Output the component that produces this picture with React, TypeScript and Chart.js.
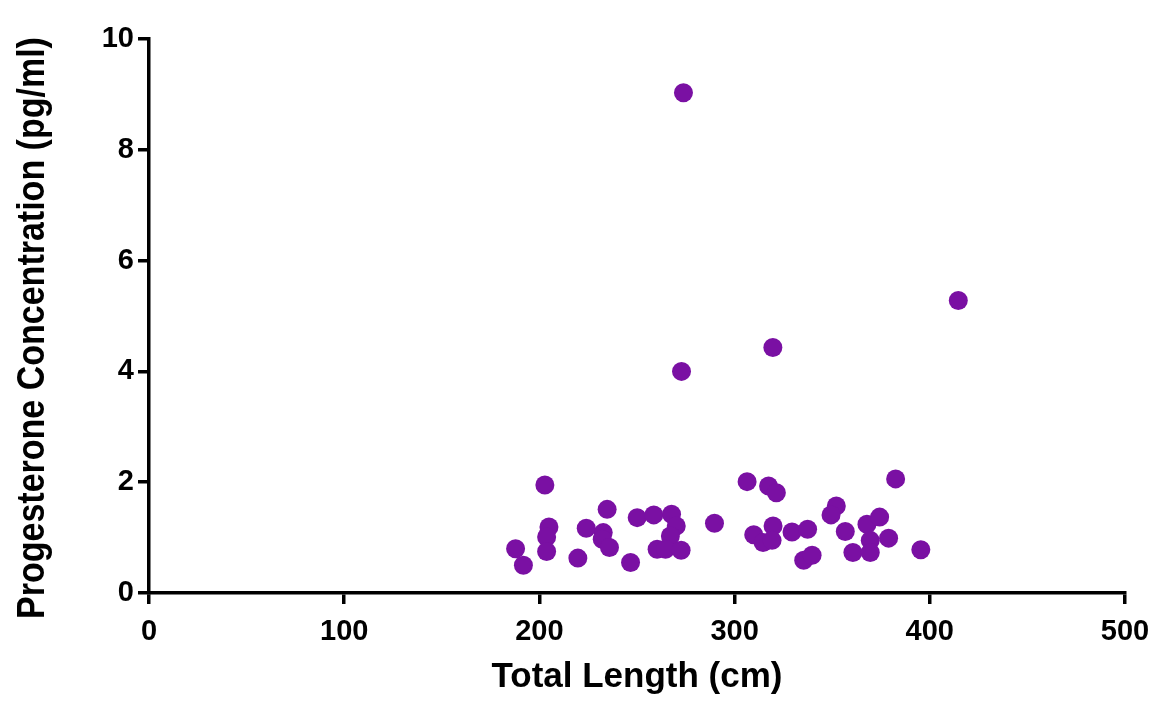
import React, { useEffect, useRef } from "react";
import { Chart, registerables } from "chart.js";

Chart.register(...registerables);

const totalLength = [
  187.8, 191.8, 202.8, 204.9, 203.7, 203.7, 219.7, 224.0, 234.7, 232.7, 232.2, 235.9,
  246.7, 250.1, 258.6, 267.7, 270.1, 267.1, 260.3, 264.6, 272.6, 289.7, 306.4, 317.4,
  321.4, 309.8, 314.6, 319.7, 319.2, 329.4, 337.4, 335.4, 339.7, 352.1, 349.4, 356.7,
  367.8, 374.3, 369.5, 378.9, 360.6, 369.5, 395.4, 382.5, 273.8, 272.8, 319.6, 414.6,
];
const progesterone = [
  0.80, 0.50, 1.95, 1.19, 1.01, 0.75, 0.63, 1.17, 1.51, 1.09, 0.97, 0.82,
  0.55, 1.36, 1.41, 1.42, 1.21, 1.03, 0.79, 0.79, 0.77, 1.26, 2.01, 1.93,
  1.81, 1.05, 0.91, 1.21, 0.95, 1.10, 1.15, 0.59, 0.68, 1.57, 1.41, 1.11,
  1.24, 1.37, 0.95, 0.99, 0.73, 0.73, 0.78, 2.06, 9.03, 4.00, 4.43, 5.28,
];
const xTicks = [0, 100, 200, 300, 400, 500];
const yTicks = [0, 2, 4, 6, 8, 10];
const xTitle = "Total Length (cm)";
const yTitle = "Progesterone Concentration (pg/ml)";

const FONT = "Liberation Sans, Arial, sans-serif";

const yTitlePlugin = {
  id: "yTitlePlugin",
  afterDraw(chart: any) {
    const ctx = chart.ctx;
    ctx.save();
    ctx.translate(33, 328);
    ctx.rotate(-Math.PI / 2);
    ctx.scale(1, 1.15);
    ctx.font = `bold 34px ${FONT}`;
    ctx.fillStyle = "#000";
    ctx.textAlign = "center";
    ctx.textBaseline = "middle";
    ctx.fillText(yTitle, 0, 0);
    ctx.restore();
  },
};

export default function App() {
  const ref = useRef<HTMLCanvasElement>(null);
  useEffect(() => {
    if (!ref.current) return;
    const purple = "#7A10A3";
    const chart = new Chart(ref.current, {
      type: "scatter",
      data: {
        datasets: [
          {
            data: totalLength.map((x, i) => ({ x, y: progesterone[i] })),
            backgroundColor: purple,
            borderColor: purple,
            borderWidth: 0,
            pointRadius: 9.5,
          },
        ],
      },
      options: {
        animation: false,
        responsive: false,
        maintainAspectRatio: false,
        layout: { padding: { top: 39, right: 33, left: 0, bottom: 0 } },
        plugins: { legend: { display: false }, tooltip: { enabled: false } },
        scales: {
          x: {
            type: "linear",
            min: 0,
            max: 500,
            afterFit: (s: any) => { s.height = 109; s.paddingLeft = 0; s.paddingRight = 0; },
            afterBuildTicks: (s: any) => { s.ticks = xTicks.map((v) => ({ value: v })); },
            grid: { display: true, drawOnChartArea: false, drawTicks: true, tickLength: 11, color: "#000", lineWidth: 3.5 },
            border: { display: true, color: "#000", width: 3.5 },
            ticks: { color: "#000", padding: 11, font: { family: FONT, size: 29, weight: "bold" } },
            title: {
              display: true,
              text: xTitle,
              color: "#000",
              font: { family: FONT, size: 35, weight: "bold" },
              padding: { top: 0, bottom: 4 },
            },
          },
          y: {
            type: "linear",
            min: 0,
            max: 10,
            afterFit: (s: any) => { s.width = 149; s.paddingTop = 0; s.paddingBottom = 0; },
            afterBuildTicks: (s: any) => { s.ticks = yTicks.map((v) => ({ value: v })); },
            grid: { display: true, drawOnChartArea: false, drawTicks: true, tickLength: 11, color: "#000", lineWidth: 3.5 },
            border: { display: true, color: "#000", width: 3.5 },
            ticks: { color: "#000", padding: 4, font: { family: FONT, size: 29, weight: "bold" } },
            title: { display: false },
          },
        },
      },
      plugins: [yTitlePlugin],
    });
    return () => chart.destroy();
  }, []);
  return (
    <div style={{ position: "absolute", left: 0, top: 0, width: 1158, height: 702, background: "#fff" }}>
      <canvas ref={ref} width={1158} height={702} style={{ width: 1158, height: 702 }} />
    </div>
  );
}
